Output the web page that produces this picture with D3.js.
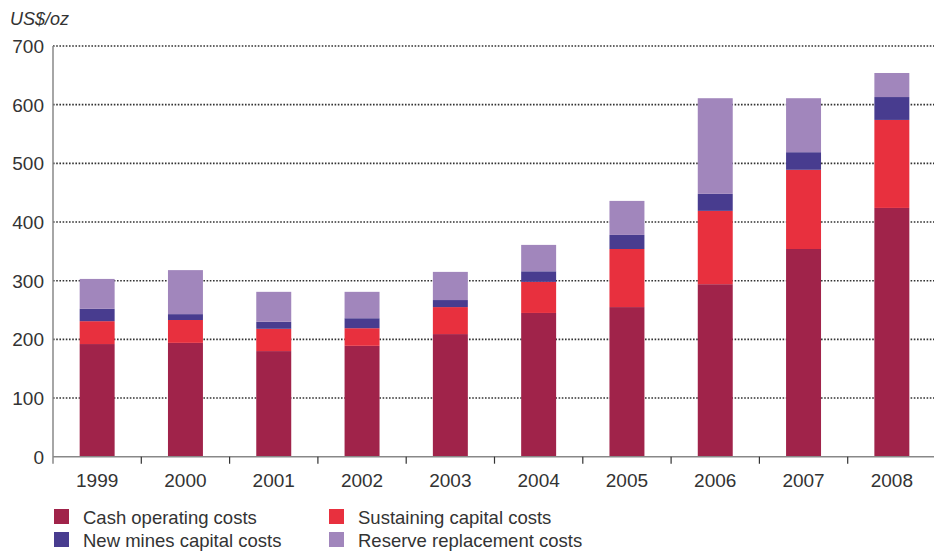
<!DOCTYPE html>
<html>
<head>
<meta charset="utf-8">
<script src="https://cdn.jsdelivr.net/npm/d3@7"></script>
<style>
  body { margin: 0; background: #fff; }
  text { font-family: "Liberation Sans", Arial, sans-serif; fill: #333; }
</style>
</head>
<body>
<div class="chart"></div>
<script>
// Data (US$/oz)
var years = ["1999", "2000", "2001", "2002", "2003", "2004", "2005", "2006", "2007", "2008"];
var cashOperating = [192, 194, 180, 189, 209, 245, 255, 294, 354, 424];
var sustainingCapital = [39, 39, 38, 30, 46, 53, 99, 125, 135, 150];
var newMinesCapital = [21, 10, 12, 17, 12, 18, 24, 29, 30, 39];
var reserveReplacement = [51, 75, 51, 45, 48, 45, 58, 163, 92, 41];
var yTicks = [0, 100, 200, 300, 400, 500, 600, 700];
var seriesNames = ["Cash operating costs", "Sustaining capital costs", "New mines capital costs", "Reserve replacement costs"];
var colors = ["#a0234a", "#e8303e", "#483c8f", "#a186bc"];

var svgWidth = 934;
var svgHeight = 552;
var x0 = 53, x1 = 936, yTop = 46, yBottom = 456.7;

var svg = d3.select(".chart")
  .append("svg")
  .attr("width", svgWidth)
  .attr("height", svgHeight);

// build table for stacking
var keys = ["cash", "sust", "newm", "res"];
var table = years.map(function(y, i) {
  return { year: y, cash: cashOperating[i], sust: sustainingCapital[i], newm: newMinesCapital[i], res: reserveReplacement[i] };
});
var stacked = d3.stack().keys(keys)(table);

var x = d3.scaleBand().domain(years).range([x0, x1]).paddingInner(0.604).paddingOuter(0.302);
var y = d3.scaleLinear().domain([0, 700]).range([yBottom, yTop]);

// dotted gridlines
svg.append("g")
  .selectAll("line")
  .data(yTicks.filter(function(d) { return d > 0; }))
  .enter()
  .append("line")
  .attr("x1", x0)
  .attr("x2", svgWidth)
  .attr("y1", function(d) { return y(d); })
  .attr("y2", function(d) { return y(d); })
  .attr("stroke", "#333")
  .attr("stroke-width", 1.6)
  .attr("stroke-dasharray", "1.6,1.6");

// bars
svg.append("g")
  .selectAll("g")
  .data(stacked)
  .enter()
  .append("g")
  .attr("fill", function(d, i) { return colors[i]; })
  .selectAll("rect")
  .data(function(d) { return d; })
  .enter()
  .append("rect")
  .attr("x", function(d) { return x(d.data.year); })
  .attr("width", x.bandwidth())
  .attr("y", function(d) { return y(d[1]); })
  .attr("height", function(d) { return y(d[0]) - y(d[1]); });

// x axis: baseline, ticks between bands, labels
var step = x.step();
svg.append("line")
  .attr("x1", x0).attr("x2", svgWidth)
  .attr("y1", yBottom).attr("y2", yBottom)
  .attr("stroke", "#888").attr("stroke-width", 1.5);

svg.append("g")
  .selectAll("line")
  .data(years.slice(1))
  .enter()
  .append("line")
  .attr("x1", function(d, i) { return x0 + step * (i + 1); })
  .attr("x2", function(d, i) { return x0 + step * (i + 1); })
  .attr("y1", yBottom)
  .attr("y2", yBottom + 7)
  .attr("stroke", "#333")
  .attr("stroke-width", 1.2);

svg.append("g")
  .selectAll("text")
  .data(years)
  .enter()
  .append("text")
  .attr("x", function(d) { return x(d) + x.bandwidth() / 2; })
  .attr("y", 487)
  .attr("text-anchor", "middle")
  .style("font-size", "19px")
  .text(function(d) { return d; });

// y axis
svg.append("line")
  .attr("x1", x0).attr("x2", x0)
  .attr("y1", yTop).attr("y2", yBottom + 7)
  .attr("stroke", "#888").attr("stroke-width", 1.5);

svg.append("g")
  .selectAll("text")
  .data(yTicks)
  .enter()
  .append("text")
  .attr("x", 44)
  .attr("y", function(d) { return y(d); })
  .attr("dy", "0.36em")
  .attr("text-anchor", "end")
  .style("font-size", "19px")
  .text(function(d) { return d; });

// unit label
svg.append("text")
  .attr("x", 10)
  .attr("y", 25)
  .style("font-size", "18px")
  .style("font-style", "italic")
  .text("US$/oz");

// legend
var legendPos = [[54, 509], [329, 509], [54, 532], [329, 532]];
var legend = svg.append("g")
  .selectAll("g")
  .data(seriesNames)
  .enter()
  .append("g")
  .attr("transform", function(d, i) { return "translate(" + legendPos[i][0] + "," + legendPos[i][1] + ")"; });

legend.append("rect")
  .attr("width", 15)
  .attr("height", 15)
  .attr("fill", function(d, i) { return colors[i]; });

legend.append("text")
  .attr("x", 29)
  .attr("y", 14.5)
  .style("font-size", "18.5px")
  .text(function(d) { return d; });
</script>
</body>
</html>
